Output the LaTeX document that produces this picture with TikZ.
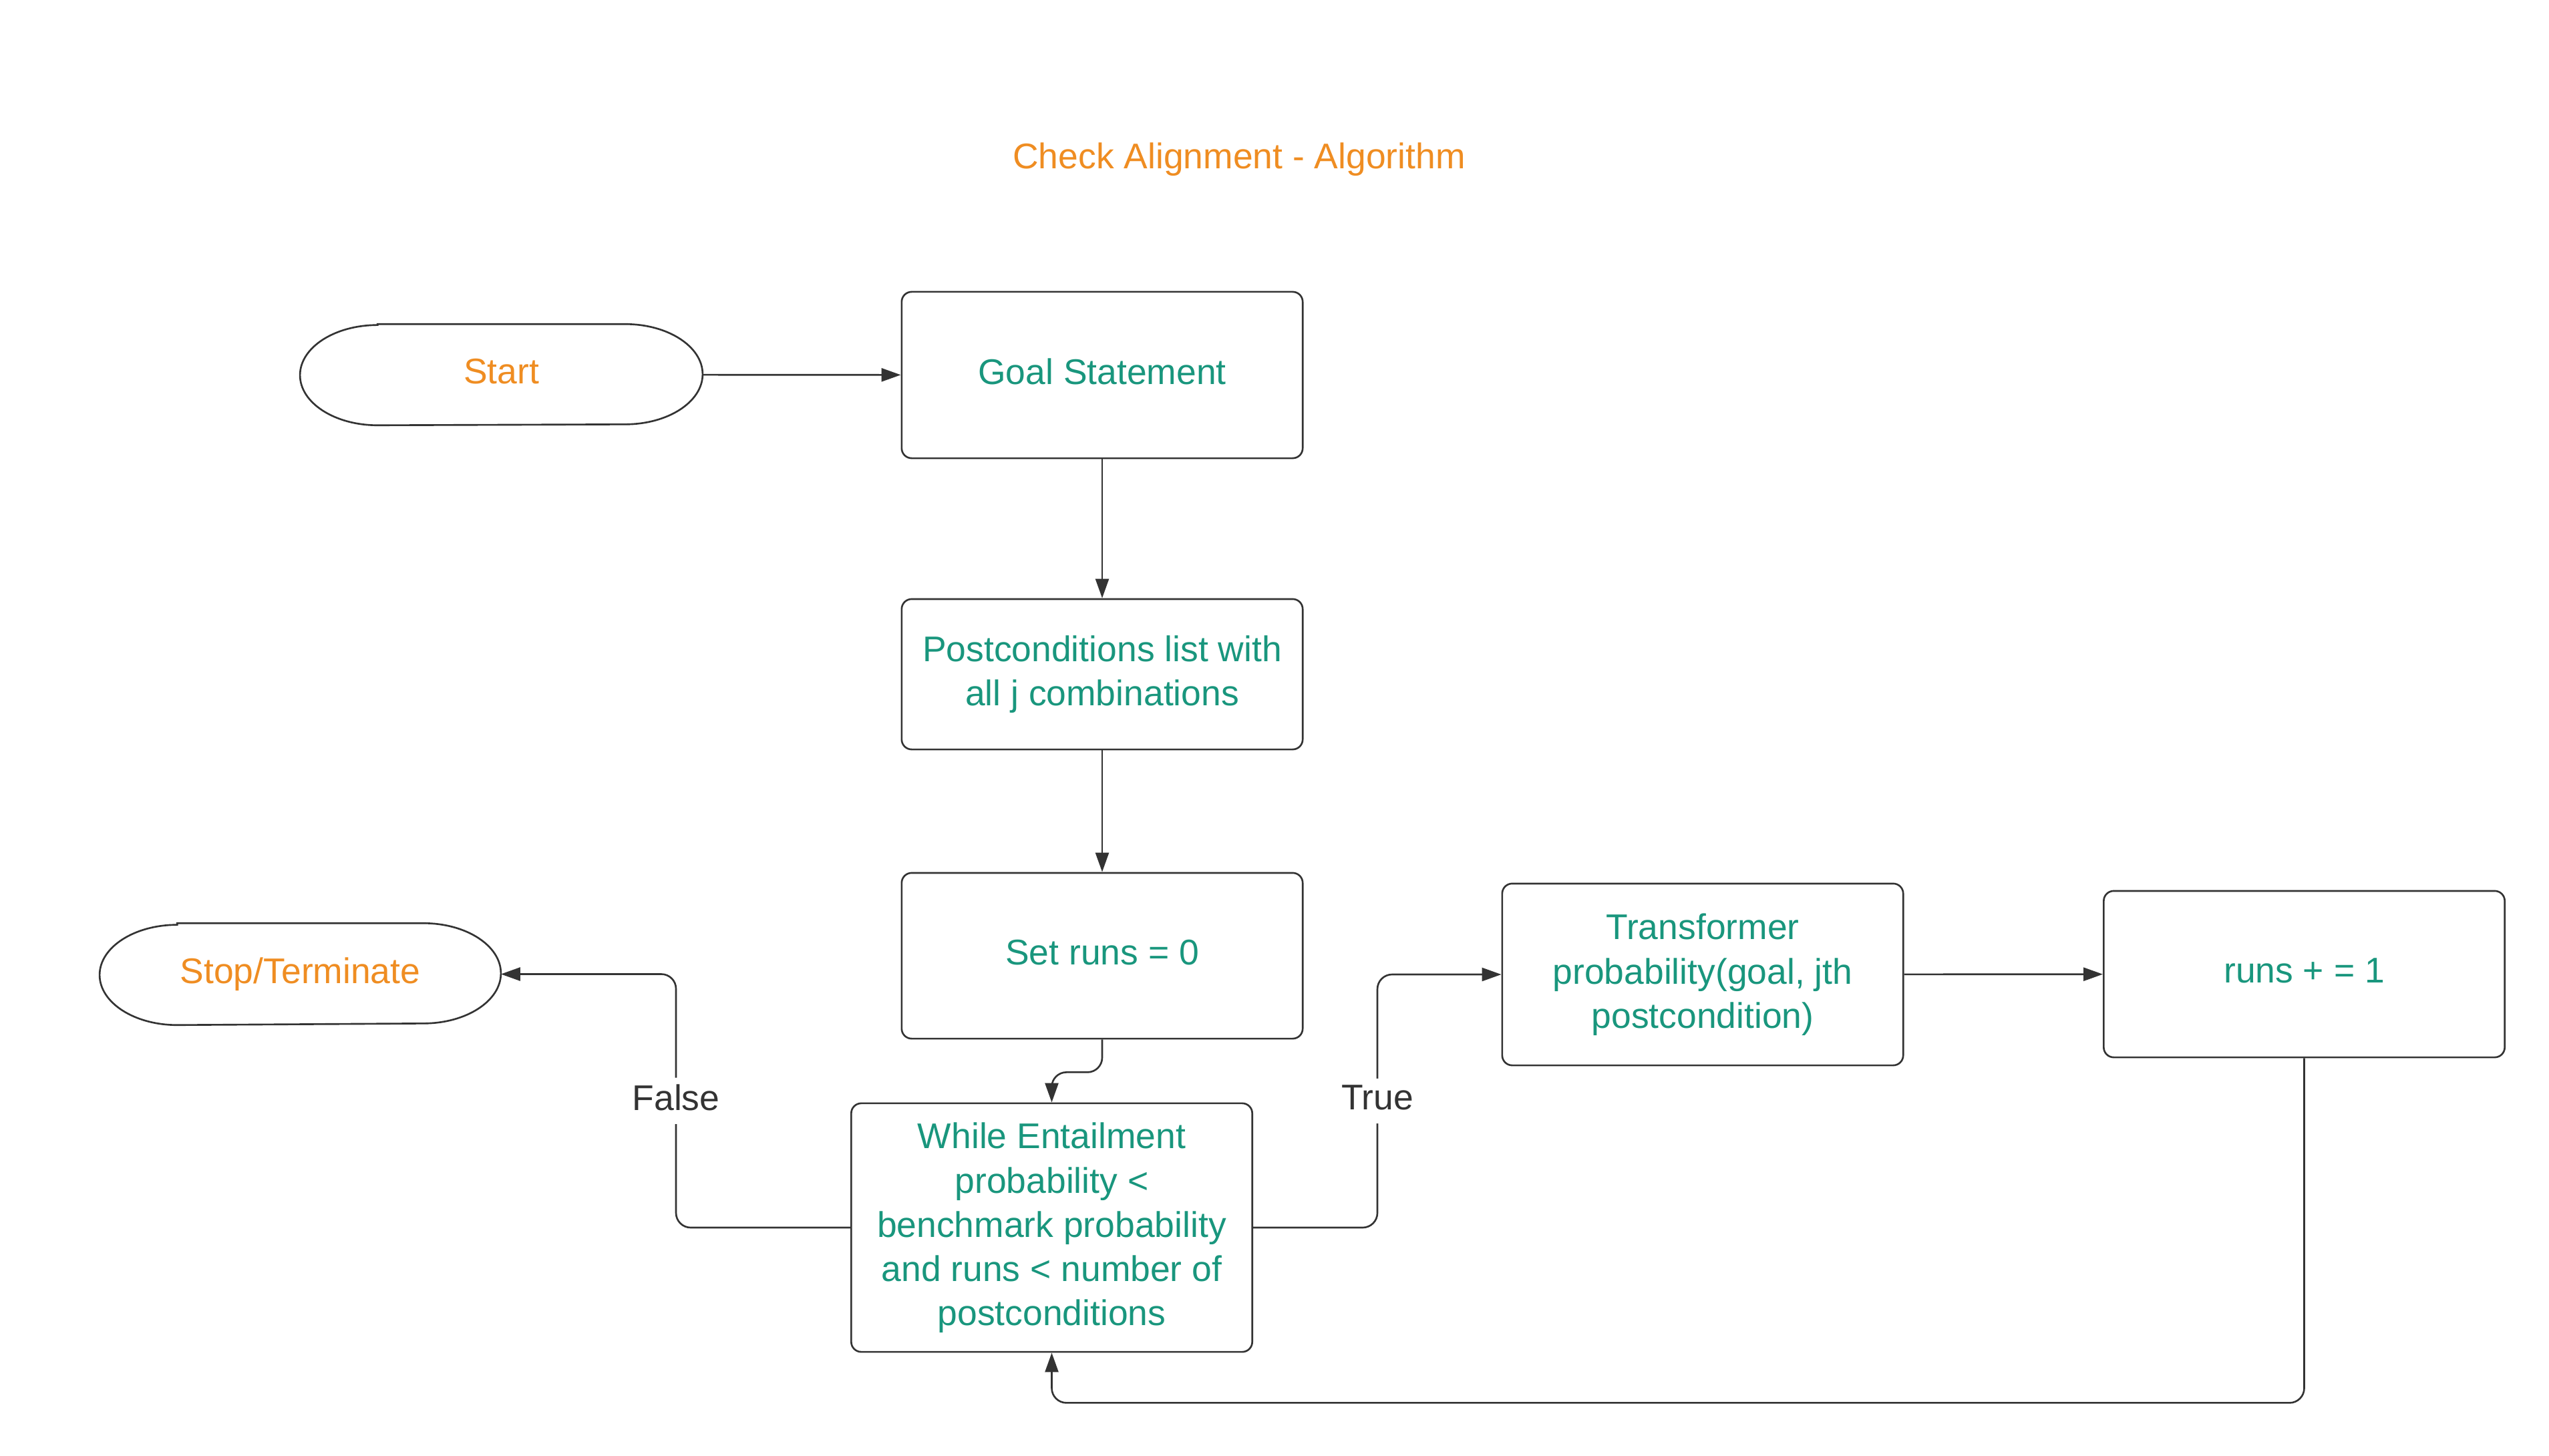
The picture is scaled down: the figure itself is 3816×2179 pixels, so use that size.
\documentclass[tikz,border=0pt]{standalone}
\usepackage{fontspec}
\setmainfont{Liberation Sans}
\usetikzlibrary{arrows.meta}
\definecolor{flowgreen}{HTML}{19967D}
\definecolor{floworange}{HTML}{EF8D22}
\definecolor{flowline}{HTML}{333333}
\tikzset{
  link/.style = {draw=flowline, line width=0.75pt, rounded corners=0.22cm, -{Triangle[length=0.29cm, width=0.2cm]}},
  flag/.style = {fill=white, text=flowline, text depth=0.3em, inner xsep=2pt, inner ysep=0.1cm}
}
\begin{document}
\begin{tikzpicture}[x=0.01cm, y=-0.01cm, font=\fontsize{15.2}{18.8}\selectfont]
\useasboundingbox (0,0) rectangle (3816,2179);
\node[text=floworange, anchor=base] (title) at (1855,253) {Check Alignment - Algorithm};
\begin{scope}[every node/.style = {rectangle, inner sep=0pt, text depth=0.3em, text=floworange}]
\node[minimum width=6.01cm, minimum height=1.5cm] (start) at (750.5,561) {Start};
\node[minimum width=5.99cm, minimum height=1.51cm] (stop) at (449.5,1458.5) {Stop/Terminate};
\end{scope}
\foreach \n in {start, stop}
  \draw[flowline, line width=0.75pt] ([xshift=1.16cm]\n.north west) -- ([xshift=-1.16cm]\n.north east)
    arc[start angle=90, end angle=-90, x radius=1.16cm, y radius=0.75cm] -- ([xshift=1.16cm]\n.south west)
    arc[start angle=270, end angle=90, x radius=1.16cm, y radius=0.75cm] -- cycle;
\begin{scope}[every node/.style = {draw=flowline, line width=0.75pt, rounded corners=0.15cm, inner sep=0pt, text depth=0.3em, align=center, text=flowgreen, minimum width=6cm}]
\node[minimum height=2.49cm] (goal) at (1650,561.5) {Goal Statement};
\node[minimum height=2.25cm] (post) at (1650,1009.5) {Postconditions list with\\all j combinations};
\node[minimum height=2.48cm] (setruns) at (1650,1431) {Set runs = 0};
\node[minimum height=3.72cm] (while) at (1574.5,1838) {While Entailment\\probability <\\benchmark probability\\and runs < number of\\postconditions};
\node[minimum height=2.72cm] (trans) at (2549,1459) {Transformer\\probability(goal, jth\\postcondition)};
\node[minimum height=2.49cm] (incr) at (3449.5,1458.5) {runs + = 1};
\end{scope}
\draw[link] (start) -- (goal);
\draw[link] (goal) -- (post);
\draw[link] (post) -- (setruns);
\draw[link] (setruns.south) -- ++(0,49) -| (while.north);
\draw[link] (while.west) -- ++(-261,0) |- node[pos=0.25, flag] {False} (stop.east);
\draw[link] (while.east) -- ++(186,0) |- node[pos=0.25, flag] {True} (trans.west);
\draw[link] (trans) -- (incr);
\draw[link] (incr.south) -- ++(0,516) -| (while.south);
\end{tikzpicture}
\end{document}
